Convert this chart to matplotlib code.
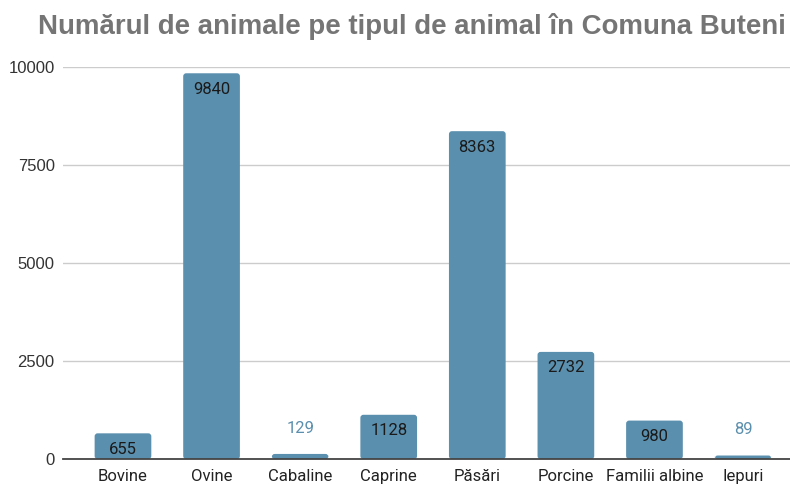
import matplotlib
matplotlib.use("Agg")
import matplotlib.pyplot as plt
from matplotlib.patches import FancyBboxPatch

categories = ["Bovine", "Ovine", "Cabaline", "Caprine", "Păsări", "Porcine", "Familii albine", "Iepuri"]
values = [655, 9840, 129, 1128, 8363, 2732, 980, 89]
yticks = [0, 2500, 5000, 7500, 10000]

bar_color = "#5b8fae"
fig = plt.figure(figsize=(7.9, 4.84), dpi=100)
ax_l, ax_r, ax_t, ax_b = 63, 790, 67, 459
ax = fig.add_axes([ax_l/790, 1-ax_b/484, (ax_r-ax_l)/790, (ax_b-ax_t)/484])

x = list(range(len(categories)))
xmin, xmax = -0.677, 7.53
ax.set_xlim(xmin, xmax)
ax.set_ylim(0, 10000)

px_x = (xmax - xmin) / (ax_r - ax_l)
px_y = 10000 / (ax_b - ax_t)
bars = ax.bar(x, values, width=0.64, color=bar_color, zorder=3)
for b in bars:
    b.set_visible(False)
    r = 3 * px_x
    p = FancyBboxPatch((b.get_x(), b.get_y()), b.get_width(), b.get_height(),
                       boxstyle=f"round,pad=0,rounding_size={r}",
                       mutation_aspect=px_y/px_x, facecolor=bar_color,
                       edgecolor="none", zorder=3)
    ax.add_patch(p)

ax.set_yticks(yticks)
ax.set_yticklabels([str(t) for t in yticks], fontsize=12, fontfamily="Liberation Sans", color="#333333")
ax.set_xticks(x)
ax.set_xticklabels(categories, fontsize=12, fontfamily="Roboto", color="#222222")
ax.tick_params(axis="both", length=0, pad=6)
ax.tick_params(axis="x", pad=7)
ax.grid(axis="y", color="#cccccc", linewidth=1, zorder=0)
for s in ["top", "right", "left"]:
    ax.spines[s].set_visible(False)
ax.spines["bottom"].set_color("#444444")
ax.spines["bottom"].set_linewidth(1.3)
ax.spines["bottom"].set_zorder(4)

for xi, v in zip(x, values):
    if v > 400:
        ax.annotate(str(v), (xi, v), xytext=(0, -6), textcoords="offset points",
                    ha="center", va="top", fontsize=12, fontfamily="Roboto", color="#1a1a1a", zorder=5)
    else:
        ax.annotate(str(v), (xi, v), xytext=(0, 13), textcoords="offset points",
                    ha="center", va="bottom", fontsize=12, fontfamily="Roboto", color=bar_color, zorder=5)

fig.text(412/790, 1-27/484, "Numărul de animale pe tipul de animal în Comuna Buteni",
         ha="center", va="center", fontsize=19.9, fontweight="bold",
         fontfamily="Liberation Sans", color="#757575")

fig.savefig("out.png", dpi=100)
